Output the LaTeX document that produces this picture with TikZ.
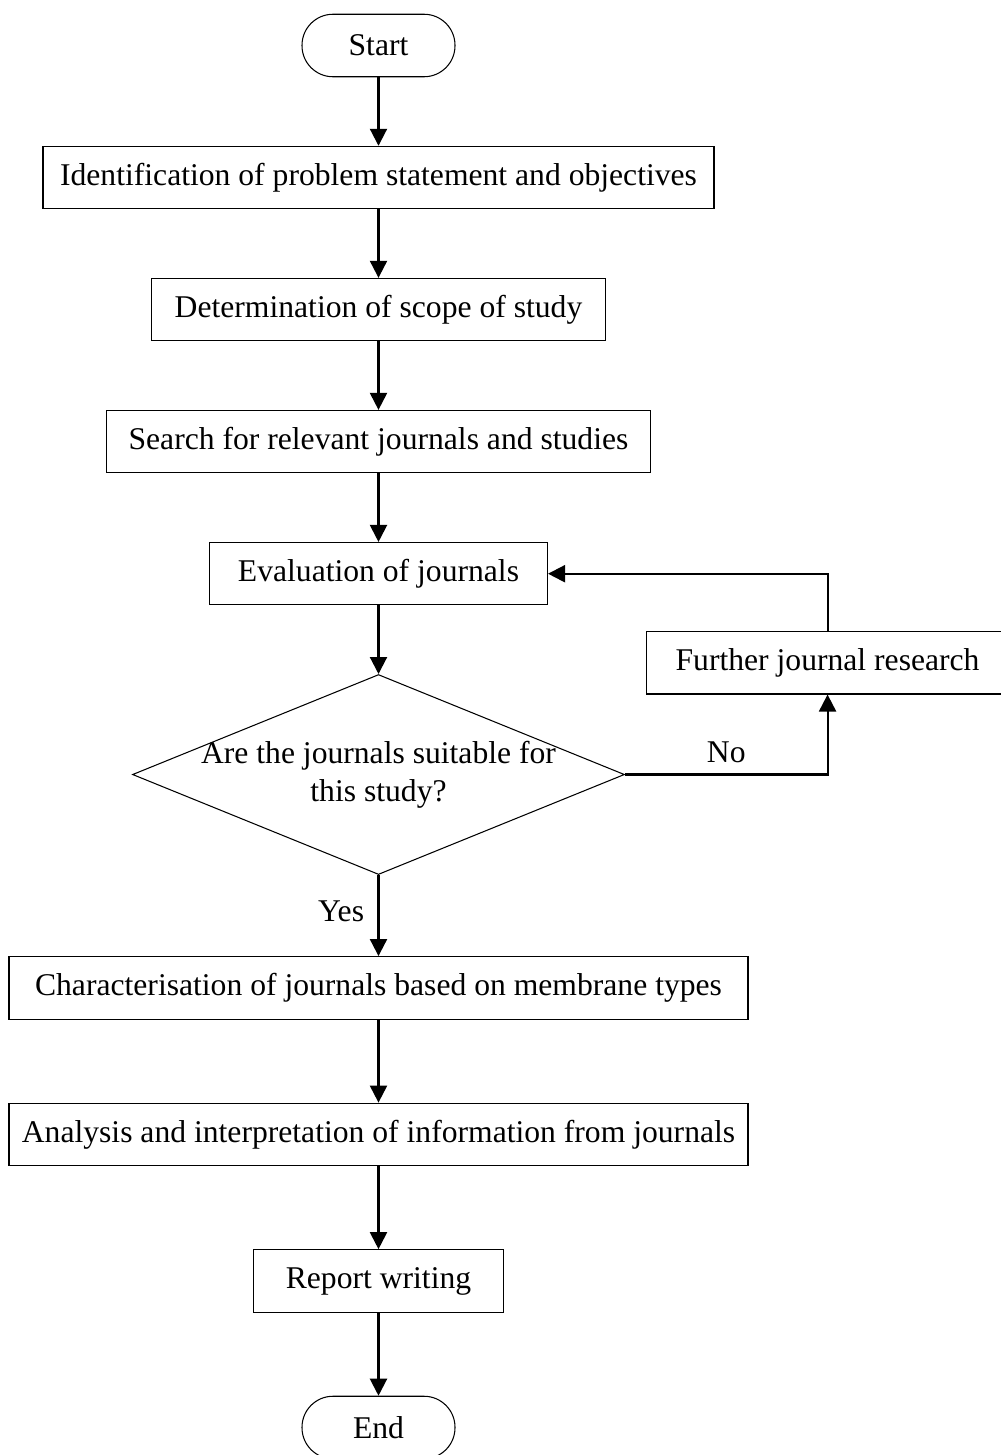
\documentclass[tikz,border=0pt]{standalone}
\usepackage{fontspec}
\setmainfont{Liberation Serif}
\usetikzlibrary{shapes.geometric, arrows.meta, positioning}

\begin{document}
\begin{tikzpicture}[
    node distance=1.37cm,
    % Node styles
    terminal/.style={
        rectangle,
        rounded corners=0.62cm,
        draw,
        line width=0.6pt,
        minimum width=3.06cm,
        minimum height=1.25cm,
        text centered,
        font=\fontsize{18}{21.6}\selectfont
    },
    process/.style={
        rectangle,
        draw,
        line width=0.6pt,
        minimum height=1.25cm,
        text centered,
        font=\fontsize{18}{21.6}\selectfont
    },
    decision/.style={
        diamond,
        draw,
        line width=0.6pt,
        minimum width=9.84cm,
        minimum height=4cm,
        inner sep=0pt
    },
    plain/.style={
        font=\fontsize{18}{21.6}\selectfont,
        align=center
    },
    arrow/.style={
        -{Triangle[length=0.34cm, width=0.34cm]},
        line width=1.2pt
    }
]

\useasboundingbox (0,0) rectangle (20,-29.1);

% First column, top part
\node[terminal] (start) at (7.57,-0.91) {Start};
\node[process, minimum width=13.42cm, below=of start] (p1) {Identification of problem statement and objectives};
\node[process, minimum width=9.08cm, below=of p1] (p2) {Determination of scope of study};
\node[process, minimum width=10.88cm, below=of p2] (p3) {Search for relevant journals and studies};
\node[process, minimum width=6.76cm, below=of p3] (p4) {Evaluation of journals};
\node[decision, below=of p4] (dec) {};
\node[plain] (q) at (dec) {Are the journals suitable for\\this study?};

% Loop back box
\node[process, minimum width=7.24cm, above right=1.6cm and 0.42cm of dec.east] (fr) {Further journal research};

% First column, bottom part
\node[process, minimum width=14.78cm, below=1.62cm of dec] (p5) {Characterisation of journals based on membrane types};
\node[process, minimum width=14.78cm, below=1.66cm of p5] (p6) {Analysis and interpretation of information from journals};
\node[process, minimum width=5cm, below=1.66cm of p6] (p7) {Report writing};
\node[terminal, below=1.66cm of p7] (stop) {End};

% Arrows
\draw[arrow] (start) -- (p1);
\draw[arrow] (p1) -- (p2);
\draw[arrow] (p2) -- (p3);
\draw[arrow] (p3) -- (p4);
\draw[arrow] (p4) -- (dec);
\draw[arrow] (dec) -- node[plain, pos=0.45, left=0.15cm] (yes) {Yes} (p5);
\draw[arrow] (dec.east) -| node[plain, pos=0.25, above=3pt] (no) {No} (fr.south);
\draw[arrow] (fr.north) |- (p4.east);
\draw[arrow] (p5) -- (p6);
\draw[arrow] (p6) -- (p7);
\draw[arrow] (p7) -- (stop);

\end{tikzpicture}
\end{document}
